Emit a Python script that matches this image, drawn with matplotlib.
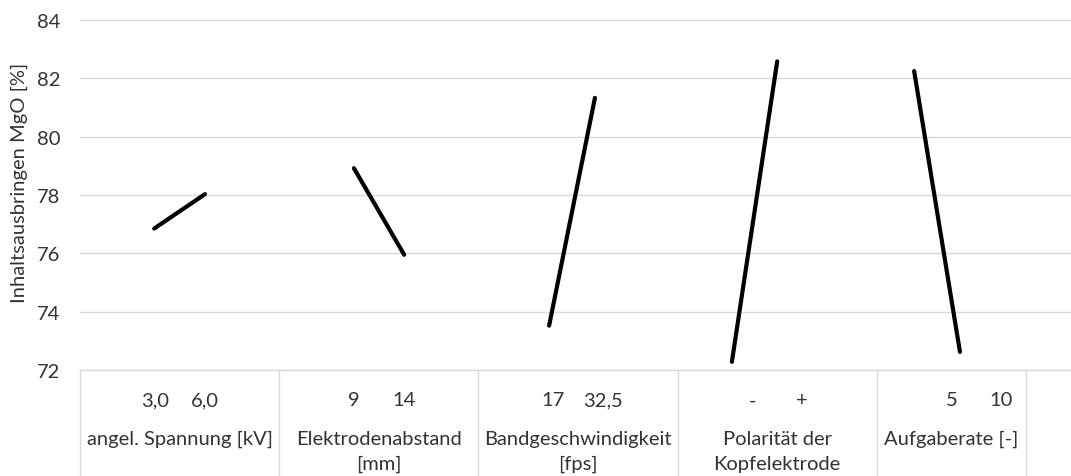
import matplotlib.pyplot as plt
import numpy as np

plt.rcParams['font.family'] = ['Lato', 'DejaVu Sans']

# factors of the main-effects plot
factors = ["angel. Spannung [kV]", "Elektrodenabstand\n[mm]", "Bandgeschwindigkeit\n[fps]",
           "Polarität der\nKopfelektrode", "Aufgaberate [-]"]
levels = [["3,0", "6,0"], ["9", "14"], ["17", "32,5"], ["-", "+"], ["5", "10"]]
# mean MgO recovery at low / high level
means = [[76.85, 78.03], [78.92, 75.95], [73.52, 81.33], [72.28, 82.58], [82.25, 72.62]]
# x values of the effect lines (category slot units)
line_x = [[1.49, 2.51], [5.50, 6.51], [9.42, 10.34], [13.09, 14.00], [16.75, 17.67]]

# category slots: each group spans several slots on the axis
group_edges = [0, 4, 8, 12, 16, 19, 20]
label_slots = [[1.5, 2.5], [5.5, 6.5], [9.5, 10.5], [13.5, 14.5], [17.5, 18.5]]

grid_col = "#d9d9d9"
txt_col = "#333333"
fs = 14.5

fig = plt.figure(figsize=(10.71, 4.77), dpi=100)
ax = fig.add_axes([80 / 1071, 106 / 477, (20 * 49.8) / 1071, 350 / 477])

for xs, ys in zip(line_x, means):
    ax.plot(xs, ys, color="black", lw=3, solid_capstyle="round")

ax.set_xlim(group_edges[0], group_edges[-1])
ax.set_ylim(72, 84)
ax.set_yticks(np.arange(72, 85, 2))
ax.yaxis.grid(True, color=grid_col, lw=1)
ax.set_axisbelow(True)
ax.set_xticks([])
ax.tick_params(axis="y", length=0, pad=14, labelsize=fs, labelcolor=txt_col)
for s in ["top", "right", "left"]:
    ax.spines[s].set_visible(False)
ax.spines["bottom"].set_color(grid_col)
ax.spines["bottom"].set_linewidth(1)

ax.set_ylabel("Inhaltsausbringen MgO [%]", fontsize=fs, color=txt_col)
ax.yaxis.set_label_coords(-52 / 996, 0.537)

# multi-level category axis drawn as a table under the plot
trans = ax.get_xaxis_transform()
for e in group_edges[:-1]:
    ax.plot([e, e], [0, -0.31], color=grid_col, lw=1, transform=trans, clip_on=False)

for name, labs, slots, (a, b) in zip(factors, levels, label_slots, zip(group_edges[:-2], group_edges[1:-1])):
    for lab, s in zip(labs, slots):
        ax.text(s, -30 / 350, lab, transform=trans, ha="center", va="center", fontsize=fs, color=txt_col)
    ax.text((a + b) / 2, -60 / 350, name, transform=trans, ha="center", va="top",
            fontsize=fs, color=txt_col, linespacing=1.55)

fig.savefig("out.png", dpi=100)
